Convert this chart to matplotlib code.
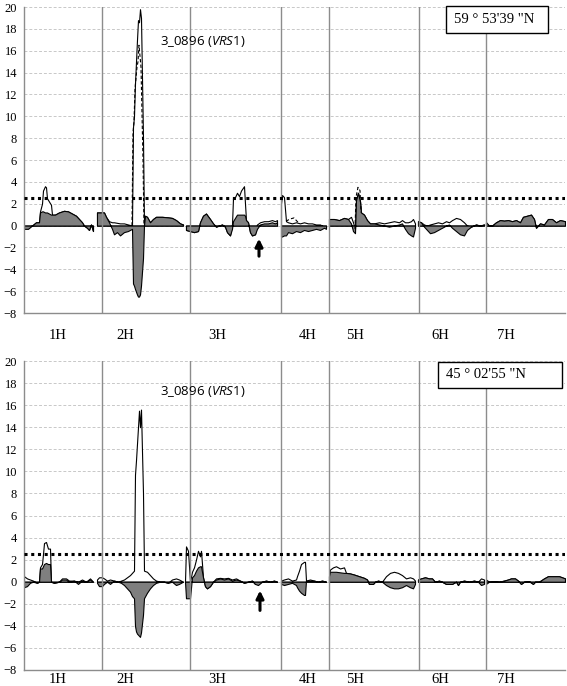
import numpy as np
import matplotlib
matplotlib.use("Agg")
import matplotlib.pyplot as plt
import matplotlib.transforms as mtransforms
from matplotlib.patches import Rectangle

plt.rcParams['mathtext.fontset'] = 'custom'
plt.rcParams['mathtext.rm'] = 'Open Sans'
plt.rcParams['mathtext.it'] = 'Open Sans:italic'

# chromosome layout (position along genome, same units as the data)
chrom_names = ['1H', '2H', '3H', '4H', '5H', '6H', '7H']
chrom_start = [0, 73, 161, 257, 305, 394, 462]
chrom_sep = [78, 166, 257, 305, 395, 462]
chrom_label_pos = [34, 101, 193, 284, 331, 416, 482]

threshold = 2.5

# --- top panel (59 ° 53'39 "N) ---
top_pos = [0, 4, 8, 12, 15, 16, 18, 19, 21, 22, 23, 25, 27, 28, 31, 35, 40, 44, 48, 52, 55, 58, 60, 63, 65, 67, 69,
           73, 80, 82, 85, 88, 90, 93, 96, 100, 104, 108, 109, 110, 111, 113, 114, 115, 116, 117, 119, 120,
           121, 123, 126, 129, 132, 138, 144, 148, 152, 156, 159,
           162, 166, 170, 174, 176, 179, 182, 186, 189, 192, 195, 198, 201, 203, 206, 208, 209, 211, 213, 215,
           217, 220, 221, 222, 224, 226, 228, 231, 233, 236, 240, 244, 248, 251, 253,
           257, 258, 260, 262, 264, 268, 272, 276, 280, 284, 288, 292, 296, 300, 302,
           305, 310, 315, 320, 324, 327, 329, 331, 332, 334, 336, 337, 340, 343, 346, 350, 355, 360, 365, 370,
           375, 378, 381, 384, 387, 389, 391,
           394, 397, 400, 403, 406, 410, 414, 418, 422, 425, 428, 432, 436, 440, 443, 447, 452, 456, 460,
           462, 465, 468, 472, 476, 480, 484, 488, 492, 496, 499, 503, 507, 510, 512, 514, 516, 520, 524, 528,
           532, 536, 541]
top_gray = [-0.3, -0.3, 0.0, 0.3, 0.3, 1.2, 1.3, 1.3, 1.2, 1.2, 1.2, 1.1, 1.0, 1.0, 1.0, 1.2, 1.35, 1.3, 1.1, 0.9,
            0.6, 0.3, 0.0, -0.2, -0.4, 0.1, -0.5,
            1.2, 1.2, 0.8, 0.3, -0.3, -0.8, -0.6, -0.9, -0.6, -0.5, -0.3, -5.3, -5.5, -5.8, -6.3, -6.5, -6.5,
            -6.3, -5.5, -3.0, 0.0,
            0.9, 0.8, 0.3, 0.6, 0.8, 0.8, 0.75, 0.7, 0.5, 0.2, 0.1,
            -0.4, -0.5, -0.6, -0.5, 0.3, 0.9, 1.1, 0.6, 0.2, -0.1, 0.0, 0.1, -0.1, -0.6, -0.9, -0.3, 0.4, 0.7,
            1.0, 1.0, 1.0, 1.0, 0.9, 0.5, 0.3, -0.6, -0.9, -0.8, -0.3, 0.1, 0.2, 0.2, 0.3, 0.2, 0.3,
            -1.0, -1.0, -0.9, -0.9, -0.6, -0.7, -0.5, -0.6, -0.4, -0.5, -0.4, -0.3, -0.4, -0.2, -0.3,
            0.6, 0.6, 0.5, 0.7, 0.6, 0.2, -0.5, -0.7, 2.3, 3.0, 2.2, 1.2, 1.0, 0.5, 0.2, 0.2, 0.1, 0.0, -0.1,
            0.0, 0.1, 0.2, -0.3, -0.7, -0.9, -1.0, -0.2,
            0.4, 0.3, -0.1, -0.4, -0.7, -0.6, -0.4, -0.2, 0.0, 0.1, -0.2, -0.5, -0.8, -0.9, -0.4, -0.1, 0.1,
            0.0, 0.1,
            0.3, 0.0, 0.0, 0.3, 0.5, 0.45, 0.5, 0.4, 0.5, 0.3, 0.8, 0.9, 1.0, 0.6, -0.2, 0.0, 0.2, 0.1, 0.6,
            0.6, 0.3, 0.5, 0.4]
top_white = [-0.3, -0.1, 0.0, 0.3, 0.3, 1.3, 2.0, 3.2, 3.6, 3.5, 2.5, 2.2, 1.9, 1.0, 1.0, 1.2, 1.35, 1.3, 1.1,
             0.9, 0.6, 0.3, 0.0, -0.2, -0.4, 0.1, -0.5,
             1.2, 1.2, 0.8, 0.4, 0.3, 0.3, 0.25, 0.2, 0.2, 0.1, 0.0, 9.0, 10.0, 13.0, 17.0, 18.8, 18.6, 19.8,
             19.0, 8.0, 0.0,
             0.9, 0.8, 0.3, 0.6, 0.8, 0.8, 0.75, 0.7, 0.5, 0.2, 0.1,
             -0.4, -0.5, -0.6, -0.5, 0.3, 0.9, 1.1, 0.6, 0.2, -0.1, 0.0, 0.1, -0.1, -0.6, -0.9, 0.1, 2.5, 2.6,
             3.0, 2.7, 3.2, 3.6, 2.0, 0.5, 0.3, -0.6, -0.9, -0.8, 0.1, 0.3, 0.4, 0.4, 0.5, 0.4, 0.5,
             2.0, 2.8, 2.6, 0.4, 0.3, 0.2, 0.3, 0.2, 0.3, 0.2, 0.2, 0.1, 0.1, -0.1, -0.2,
             0.6, 0.6, 0.5, 0.7, 0.6, 0.8, 0.3, -0.3, 2.3, 3.0, 2.2, 1.2, 1.0, 0.5, 0.2, 0.2, 0.3, 0.2, 0.3,
             0.4, 0.3, 0.5, 0.3, 0.3, 0.4, 0.6, 0.2,
             0.4, 0.3, 0.1, 0.0, 0.1, 0.2, 0.3, 0.2, 0.4, 0.3, 0.5, 0.7, 0.6, 0.3, 0.0, -0.1, 0.1, 0.0, 0.1,
             0.3, 0.0, 0.0, 0.3, 0.5, 0.45, 0.5, 0.4, 0.5, 0.3, 0.8, 0.9, 1.0, 0.6, -0.2, 0.0, 0.2, 0.1, 0.6,
             0.6, 0.3, 0.5, 0.4]
# dashed series, where it differs from the solid outline
top_dash_pos = [108, 109, 110, 111, 113, 114, 115, 116, 117, 119, 120, np.nan,
                262, 266, 270, 274, np.nan, 331, 332, 334, 336, 337]
top_dash = [0.0, 8.5, 9.5, 12.5, 14.5, 15.0, 16.5, 15.5, 14.5, 6.0, 0.0, np.nan,
            0.4, 0.6, 0.7, 0.3, np.nan, -0.3, 2.6, 3.5, 3.2, 1.2]

# --- bottom panel (45 ° 02'55 "N) ---
bot_pos = [0, 3, 6, 9, 13, 15, 16, 18, 19, 20, 22, 24, 26, 27, 30, 35, 38, 42, 45, 50, 54, 58, 62, 66, 69,
           73, 75, 78, 80, 83, 86, 90, 94, 97, 100, 103, 106, 108, 110, 111, 112, 113, 115, 116, 117, 119, 120,
           123, 126, 129, 132, 136, 140, 144, 148, 152, 155, 159,
           161, 162, 164, 166, 168, 170, 172, 174, 176, 177, 179, 181, 183, 186, 189, 192, 196, 200, 204, 208,
           212, 216, 220, 224, 228, 231, 234, 238, 242, 246, 250, 253,
           257, 260, 264, 268, 272, 273, 275, 277, 280, 281, 282, 286, 290, 294, 298, 302,
           305, 306, 309, 312, 316, 320, 322, 326, 330, 335, 340, 343, 345, 349, 351, 354, 358, 362, 366, 370,
           374, 378, 382, 386, 389, 391,
           394, 397, 401, 405, 408, 411, 415, 418, 422, 428, 432, 434, 436, 440, 445, 450, 454, 457, 460,
           462, 465, 470, 475, 480, 484, 487, 491, 494, 497, 500, 505, 509, 511, 515, 520, 524, 530, 535, 538,
           541]
bot_gray = [-0.5, -0.4, -0.1, 0.0, -0.1, 0.0, 1.2, 1.2, 1.4, 1.6, 1.7, 1.6, 1.6, 0.0, -0.1, 0.0, 0.2, 0.2, 0.0,
            0.1, -0.2, 0.1, 0.0, 0.2, 0.0,
            -0.1, -0.4, -0.4, -0.2, 0.0, -0.2, 0.1, 0.0, -0.1, -0.3, -0.6, -0.9, -1.3, -1.5, -4.0, -4.5, -4.7,
            -4.9, -5.0, -4.6, -3.0, -1.5, -1.0, -0.6, -0.3, -0.1, 0.0, 0.0, -0.1, 0.0, -0.3, -0.2, 0.0,
            0.0, -1.5, -1.5, -1.5, 0.4, 0.6, 1.0, 1.3, 1.4, 1.4, 0.4, -0.4, -0.6, -0.4, 0.0, 0.2, 0.3, 0.2, 0.3,
            0.1, 0.2, 0.1, -0.1, 0.0, 0.1, -0.2, -0.3, 0.0, 0.1, 0.0, 0.1, 0.0,
            -0.2, -0.3, -0.2, -0.1, -0.3, -0.5, -0.8, -1.0, -1.2, -1.2, 0.1, 0.1, 0.1, 0.0, 0.1, 0.0,
            0.5, 0.9, 0.9, 0.9, 0.85, 0.8, 0.8, 0.75, 0.65, 0.5, 0.35, 0.2, -0.2, -0.2, 0.0, 0.1, 0.0, -0.3,
            -0.5, -0.6, -0.6, -0.5, -0.3, -0.5, -0.6, -0.2,
            0.2, 0.3, 0.4, 0.3, 0.3, 0.0, 0.1, 0.0, -0.2, -0.2, 0.0, -0.3, 0.0, 0.1, 0.0, 0.1, 0.0, -0.3, -0.2,
            -0.2, 0.0, 0.05, 0.0, 0.1, 0.2, 0.3, 0.3, 0.1, -0.2, 0.0, 0.05, -0.2, 0.0, 0.0, 0.3, 0.5, 0.5, 0.5,
            0.4, 0.3]
bot_white = [0.5, 0.3, 0.2, 0.1, -0.1, 0.0, 1.3, 1.6, 2.5, 3.5, 3.6, 3.0, 3.0, 0.0, -0.1, 0.0, 0.3, 0.3, 0.1,
             0.1, 0.0, 0.2, 0.0, 0.3, 0.0,
             0.2, 0.4, 0.4, 0.3, 0.1, 0.2, 0.1, 0.0, 0.1, 0.2, 0.4, 0.6, 0.8, 1.0, 9.7, 11.0, 12.5, 15.5, 14.0,
             15.6, 8.0, 1.0, 0.9, 0.6, 0.3, 0.1, 0.0, 0.0, -0.1, 0.2, 0.3, 0.2, 0.0,
             0.0, 3.2, 2.8, 0.0, 0.9, 1.3, 2.0, 2.8, 2.3, 2.8, 0.4, -0.4, -0.6, -0.4, 0.0, 0.3, 0.35, 0.3, 0.35,
             0.2, 0.3, 0.1, -0.1, 0.0, 0.1, -0.2, -0.1, 0.0, 0.1, 0.0, 0.1, 0.0,
             0.1, 0.2, 0.3, 0.1, 0.2, 0.5, 1.0, 1.6, 1.8, 1.8, 0.1, 0.2, 0.1, 0.0, 0.1, 0.0,
             0.5, 1.1, 1.3, 1.4, 1.2, 1.3, 0.8, 0.75, 0.65, 0.5, 0.35, 0.2, -0.2, -0.2, 0.0, 0.1, 0.0, 0.5, 0.8,
             0.9, 0.8, 0.6, 0.3, 0.4, 0.3, 0.1,
             0.2, 0.3, 0.4, 0.3, 0.3, 0.0, 0.1, 0.0, -0.2, -0.2, 0.0, -0.3, 0.0, 0.1, 0.0, 0.1, 0.0, 0.3, 0.2,
             0.2, 0.0, 0.05, 0.0, 0.1, 0.2, 0.3, 0.3, 0.1, -0.2, 0.0, 0.05, -0.2, 0.0, 0.0, 0.3, 0.5, 0.5, 0.5,
             0.4, 0.3]

panels = [
    dict(pos=top_pos, white=top_white, gray=top_gray, dash_pos=top_dash_pos, dash=top_dash,
         site="59 ° 53'39 \"N", rect=[24/567, 1-313/686, 541/567, 306/686],
         label_y=-0.075, note_y=16.8, arrow=(235, -1.2, -2.8),
         box=(0.780, 0.915, 0.1885, 0.088), text_xy=(0.795, 0.959)),
    dict(pos=bot_pos, white=bot_white, gray=bot_gray, dash_pos=None, dash=None,
         site="45 ° 02'55 \"N", rect=[24/567, 1-670/686, 541/567, 309/686],
         label_y=-0.03, note_y=17.2, arrow=(236, -0.8, -2.6),
         box=(0.765, 0.913, 0.229, 0.084), text_xy=(0.780, 0.955)),
]

fig = plt.figure(figsize=(5.67, 6.86), dpi=100)
for p in panels:
    ax = fig.add_axes(p['rect'])
    pos = np.array(p['pos'], dtype=float)
    white = np.array(p['white'])
    gray = np.array(p['gray'])
    bounds = chrom_start + [1e9]
    for i in range(len(chrom_start)):
        m = (pos >= bounds[i]) & (pos < bounds[i + 1])
        ax.fill_between(pos[m], white[m], 0, facecolor='white', edgecolor='black', lw=0.8, zorder=2)
        ax.fill_between(pos[m], gray[m], 0, facecolor='#7f7f7f', edgecolor='black', lw=0.8, zorder=2.1)
    if p['dash'] is not None:
        ax.plot(p['dash_pos'], p['dash'], color='black', lw=0.8, ls=(0, (3, 2)), zorder=2.2)

    for s in chrom_sep:
        ax.axvline(s, color='#8c8c8c', lw=1.0, zorder=3)
    ax.axhline(threshold, color='black', lw=2.2, ls=(0, (1, 1.2)), zorder=4)

    ax.set_xlim(0, 541)
    ax.set_ylim(-8, 20)
    ax.set_yticks(np.arange(-8, 21, 2))
    ax.set_xticks([])
    ax.grid(axis='y', color='#c8c8c8', lw=0.7, ls=(0, (3, 2)), zorder=0)
    ax.set_axisbelow(True)
    ax.tick_params(axis='y', length=0, pad=5)
    for lab in ax.get_yticklabels():
        lab.set_fontfamily('Liberation Serif')
        lab.set_fontsize(9)
    for side in ['top', 'right']:
        ax.spines[side].set_visible(False)
    for side in ['left', 'bottom']:
        ax.spines[side].set_color('#8c8c8c')
        ax.spines[side].set_linewidth(1.0)

    trans = mtransforms.blended_transform_factory(ax.transData, ax.transAxes)
    for name, x in zip(chrom_names, chrom_label_pos):
        ax.text(x, p['label_y'], name, transform=trans, ha='center', va='center',
                fontsize=10.5, family='Liberation Serif')

    ax.text(136, p['note_y'], '3_0896 ($\\mathit{VRS1}$)', ha='left', va='center', fontsize=9.5,
            family='Open Sans', zorder=5)

    bx, by, bw, bh = p['box']
    ax.add_patch(Rectangle((bx, by), bw, bh, transform=ax.transAxes, facecolor='white',
                           edgecolor='black', lw=1.0, zorder=6, clip_on=False))
    ax.text(p['text_xy'][0], p['text_xy'][1], p['site'], transform=ax.transAxes, ha='left',
            va='center', fontsize=10.5, family='Liberation Serif', zorder=7)

    ax_x, y0, y1 = p['arrow']
    ax.annotate('', xy=(ax_x, y0), xytext=(ax_x, y1),
                arrowprops=dict(arrowstyle='-|>', color='black', lw=2.2, mutation_scale=11,
                                shrinkA=0, shrinkB=0), zorder=5)

fig.savefig('out.png', dpi=100)
